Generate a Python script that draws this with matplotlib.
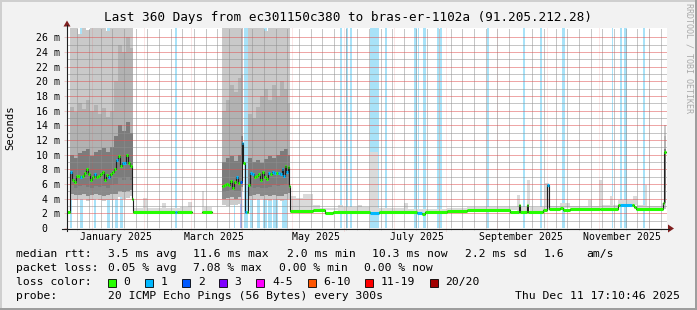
import numpy as np
import matplotlib
matplotlib.use("Agg")
import matplotlib.pyplot as plt
import matplotlib.dates as mdates
from matplotlib.patches import Rectangle, Polygon
from matplotlib.lines import Line2D
from datetime import datetime, timedelta

plt.rcParams['font.family'] = ['DejaVu Sans Mono']

W, H = 697, 310
START = datetime(2024, 12, 16, 17, 10, 46)
SPAN_DAYS = 360
TITLE = "Last 360 Days from ec301150c380 to bras-er-1102a (91.205.212.28)"

# median rtt (ms), steps starting at day offset from START; loss = index in loss_labels
median_day = [0, 1.8, 3.0, 4.2, 5.4, 6.6, 7.8, 9.0, 10.2, 11.4, 12.6, 13.8, 15.0, 16.2, 17.4,
              18.6, 19.8, 21.0, 22.2, 23.4, 24.6, 25.8, 27.0, 28.2, 29.4, 30.6, 31.8, 33.0, 34.2,
              35.4, 36.6, 37.8, 39.0, 39.6, 64.8, 66.0, 75.0, 81.0, 87.0, 93.0, 94.2, 95.4, 96.6,
              97.8, 99.0, 100.2, 101.4, 102.6, 103.8, 104.7, 105.6, 106.5, 107.7, 108.6, 109.5,
              110.7, 111.9, 113.1, 114.3, 115.5, 116.7, 117.9, 119.1, 120.3, 121.5, 122.7, 123.9,
              125.1, 126.3, 127.5, 128.7, 129.6, 130.5, 131.4, 132.3, 133.2, 133.5, 147.6, 154.8,
              159.6, 181.8, 187.2, 210.0, 213.0, 214.8, 228.0, 240.0, 265.8, 271.2, 271.8, 276.0,
              276.6, 285.6, 288.0, 288.9, 295.8, 297.6, 301.8, 319.8, 330.6, 331.8, 339.0, 340.2,
              341.4, 357.6, 358.2, 359.1]
median_ms = [2.2, 7.7, 6.5, 6.3, 7.1, 7.1, 6.9, 7.1, 7.5, 8.0, 7.3, 6.6, 6.9, 7.3, 7.0,
             7.1, 7.4, 7.7, 6.6, 7.2, 7.0, 7.3, 7.6, 8.1, 9.3, 9.8, 8.4, 8.9, 8.9,
             10.0, 8.9, 8.5, 3.9, 2.2, 2.2, 2.2, np.nan, 2.2, np.nan, 5.7, 5.9, 6.0, 5.8,
             6.4, 5.5, 6.3, 7.0, 6.1, 6.3, 11.6, 8.9, 2.2, 2.2, 5.9, 7.5,
             7.3, 6.9, 7.1, 7.3, 6.6, 7.6, 6.9, 6.7, 7.5, 7.4, 7.6, 7.5,
             7.5, 7.5, 7.4, 8.1, 7.1, 8.4, 7.6, 8.3, 5.7, 2.35, 2.4, 2.05,
             2.2, 2.1, 2.15, 2.1, 1.9, 2.25, 2.3, 2.4, 2.2, 3.1, 2.2, 3.1,
             2.2, 2.5, 5.9, 2.55, 2.75, 2.5, 2.65, 2.6, 3.1, 3.1, 3.1, 2.9,
             2.6, 3.35, 10.3, np.nan]
median_loss = [0, 1, 0, 0, 0, 0,
               1, 0, 0, 0, 0, 0, 0,
               1, 0, 0, 0, 0, 0, 0,
               1, 0, 0, 0,
               1, 0, 0, 1, 1,
               0, 0, 0, 0, 0,
               1, 0, 0, 0, 0,
               0, 0, 0, 0, 0, 0, 0,
               1, 0, 2, 1, 0, 1, 0, 0,
               1, 1, 0, 0, 0, 0, 0, 0, 0,
               1, 0, 1, 1, 0, 1, 1, 1, 1, 0, 1, 0, 0,
               0, 0, 0, 0,
               1, 0, 1,
               0, 0, 0, 0, 0, 0, 0, 0, 0, 0,
               1, 0, 0, 0, 0, 0, 0,
               1, 0, 0, 0, 0, 0, 0]

# smoke percentiles (ms) for the busy periods
nan = np.nan
smoke_day = [1.8, 4.2, 6.6, 9.0, 11.4, 13.8, 16.2, 18.6, 21.0, 23.4, 25.8, 28.2, 30.6, 33.0, 35.4, 37.8, 39.3,
             93.0, 95.4, 97.8, 100.2, 102.6, 104.4, 105.6,
             108.6, 111.0, 113.4, 115.8, 118.2, 120.6, 123.0, 125.4, 127.8, 130.2, 132.6, 133.5,
             357.9, 359.1]
smoke_lo = [4.0, 3.8, 3.9, 3.9, 3.7, 3.8, 3.9, 3.8, 3.7, 3.8, 3.8, 3.9, 4.2, 4.0, 4.1, 4.3, nan,
            3.1, 3.0, 3.2, 3.1, 3.3, 5.0, nan,
            3.9, 3.8, 4.0, 3.9, 3.8, 3.7, 3.9, 3.8, 3.7, 3.9, 4.0, nan,
            2.6, nan]
smoke_p10 = [4.6, 4.5, 4.5, 4.6, 4.4, 4.5, 4.6, 4.5, 4.4, 4.5, 4.6, 4.7, 5.0, 4.9, 5.0, 5.2, nan,
             4.0, 4.1, 4.2, 4.0, 4.2, 5.6, nan,
             4.4, 4.5, 4.6, 4.4, 4.5, 4.3, 4.5, 4.4, 4.4, 4.6, 4.8, nan,
             3.4, nan]
smoke_p25 = [5.8, 5.5, 5.7, 5.8, 5.6, 5.4, 5.7, 5.6, 5.7, 5.5, 5.8, 6.0, 6.8, 6.5, 7.0, 6.6, nan,
             4.9, 5.0, 5.2, 5.0, 5.1, 6.5, nan,
             5.6, 5.5, 5.6, 5.4, 5.5, 5.6, 5.8, 5.7, 5.9, 6.0, 5.8, nan,
             5.5, nan]
smoke_p75 = [10.0, 9.6, 10.2, 10.5, 10.8, 9.8, 10.3, 10.6, 10.9, 10.4, 11.0, 12.5, 14.0, 13.2, 14.5, 13.0, nan,
             9.0, 9.5, 9.8, 9.2, 10.0, 12.5, nan,
             9.5, 9.0, 9.3, 8.8, 9.4, 9.8, 9.5, 9.9, 10.5, 10.8, 10.0, nan,
             10.8, nan]
smoke_p90 = [16.5, 15.8, 17.0, 16.2, 17.5, 16.0, 16.8, 15.5, 16.3, 15.2, 16.0, 20.0, 25.0, 24.0, 26.0, 24.5, nan,
             16.0, 17.5, 19.5, 18.5, 20.5, 21.0, nan,
             15.5, 15.0, 16.5, 18.0, 19.0, 17.5, 19.5, 18.0, 20.0, 19.0, 17.0, nan,
             12.5, nan]
smoke_hi = [29, 29, 26.5, 29, 27, 29, 29, 29, 29, 26.8, 29, 29, 29, 29, 29, 29, nan,
            29, 29, 29, 29, 29, 29, nan,
            29, 29, 29, 29, 26.8, 29, 29, 29, 29, 29, 29, nan,
            14.0, nan]

# faint smoke (max ping) for the quiet periods
light_day = [39.6, 45.6, 48.0, 57.0, 59.4, 67.8, 72.6, 75.0, 81.0, 82.2, 87.0, 133.5, 137.4, 141.6,
             147.6, 151.8, 162.6, 165.6, 174.6, 177.0, 181.8, 186.6, 202.2, 204.6, 228.0, 240.0,
             270.0, 271.8, 276.0, 277.8, 286.8, 289.2, 295.8, 301.8, 312.6, 315.0, 319.2, 321.0,
             325.8, 327.6, 330.6, 339.6, 342.0, 346.8, 348.0, 357.0, 357.9]
light_top = [2.7, 4.1, 2.7, 3.4, 2.7, 2.9, 3.6, nan, 5.0, 2.9, nan, 4.3, 4.1, 4.6,
             3.1, 2.7, 3.1, 2.8, 3.1, 2.8, 10.4, 2.7, 3.4, 2.6, 2.75, 2.8,
             4.5, 2.8, 6.5, 2.9, 6.1, 3.0, 3.4, 3.0, 3.8, 3.0, 6.5, 3.1,
             4.3, 3.2, 3.8, 4.3, 3.2, 5.8, 3.0, 3.4, nan]

# loss background periods (day start, day end, loss index)
lossbg_start = [1.5, 7.8, 15.9, 24.0, 26.8, 28.8, 31.8, 64.8, 99.9, 103.8, 105.9, 109.8, 113.8, 117.6,
                120.6, 123.8, 128.8, 151.5, 163.8, 167.2, 169.8, 181.8, 190.8, 208.2, 210.3, 213.6,
                222.0, 223.8, 252.0, 273.6, 283.8, 296.8, 326.8, 331.8, 334.4, 345.8]
lossbg_end = [2.7, 9.6, 17.7, 26.1, 27.8, 30.6, 33.6, 66.2, 101.1, 105.0, 108.6, 111.6, 115.8, 119.8,
              122.8, 126.8, 131.8, 152.1, 165.0, 168.8, 170.8, 187.0, 191.8, 209.8, 211.2, 215.2,
              223.2, 225.0, 253.2, 274.8, 284.8, 298.8, 327.8, 333.2, 335.8, 346.8]
lossbg_level = [1] * 9 + [2] + [1] * 26

loss_labels = ['0', '1', '2', '3', '4-5', '6-10', '11-19', '20/20']
loss_colors = ['#26ff00', '#00b8ff', '#0059ff', '#7e00ff', '#ff00ff', '#ff5500', '#ff0000', '#a10000']
lossbg_colors = {1: '#a8e2f8', 2: '#aab6f4'}

legend_rows = [
    [("median rtt:", 16), ("3.5 ms avg", 107.6), ("11.6 ms max", 193), ("2.0 ms min", 286.7),
     ("10.3 ms now", 372.4), ("2.2 ms sd", 465), ("1.6", 544), ("am/s", 586.7)],
    [("packet loss:", 16), ("0.05 % avg", 107.6), ("7.08 % max", 193.3), ("0.00 % min", 279),
     ("0.00 % now", 364.4)],
]
swatch_x = [108, 145.3, 182.2, 219, 256.4, 307.6, 365.3, 429.8]
probe_text = "20 ICMP Echo Pings (56 Bytes) every 300s"
stamp_text = "Thu Dec 11 17:10:46 2025"

GRID = (0.56, 0.56, 0.56, 0.35)
MGRID = (0.87, 0.31, 0.31, 0.28)
AXIS = '#1f1f1f'
ARROW = '#801f1f'


def fx(px):
    return px / W


def fy(py):
    return 1 - py / H


fig = plt.figure(figsize=(W / 100, H / 100), dpi=100)
fig.patch.set_facecolor('#f2f2f2')
ax = fig.add_axes([fx(67), fy(228), 600 / W, 200 / H])
ax.set_facecolor('white')
for s in ax.spines.values():
    s.set_visible(False)

x0 = mdates.date2num(START)
ax.set_xlim(x0, x0 + SPAN_DAYS)
ax.set_ylim(0, 200 / 7.333)

# loss background
for s, e, lv in zip(lossbg_start, lossbg_end, lossbg_level):
    ax.axvspan(x0 + s, x0 + e, color=lossbg_colors[lv], lw=0, zorder=0.5)

# faint smoke
ld = np.array(light_day)
md = np.array(median_day)
mm = np.array(median_ms)
idx = np.searchsorted(md, ld, side='right') - 1
lbot = mm[idx]
ltop = np.array(light_top)
ax.bar(x0 + ld[:-1], (ltop - lbot)[:-1], bottom=lbot[:-1], width=np.diff(ld), align='edge',
       color='#dadada', lw=0, zorder=1)

# heavy smoke
sd = np.array(smoke_day)
bands = [(smoke_lo, smoke_p10, '#cbcbcb'), (smoke_p90, smoke_hi, '#c9c9c9'),
         (smoke_p10, smoke_p25, '#8a8a8a'), (smoke_p75, smoke_p90, '#b2b2b2'),
         (smoke_p25, smoke_p75, '#7c7c7c')]
for lo, hi, c in bands:
    lo = np.array(lo)
    hi = np.array(hi)
    ax.bar(x0 + sd[:-1], (hi - lo)[:-1], bottom=lo[:-1], width=np.diff(sd), align='edge',
           color=c, lw=0, zorder=1.2)

# median
ax.step(x0 + md, mm, where='post', color='#202020', lw=0.8, zorder=3)
for i in range(len(md) - 1):
    if np.isfinite(mm[i]):
        ax.hlines(mm[i], x0 + md[i], x0 + md[i + 1], colors=loss_colors[median_loss[i]],
                  lw=2.2, zorder=4)

# grid
ax.set_axisbelow(False)
yt = np.arange(0, 27, 2)
ax.set_yticks(yt, labels=[f"{v:2d} m" if v else " 0" for v in yt])
ax.set_yticks(np.arange(1, 27, 2), minor=True)
ax.tick_params(axis='y', which='major', direction='out', length=2.2, width=0.72, color=MGRID,
               pad=20.2, labelsize=7.1)
ax.tick_params(axis='y', which='minor', length=0)
for t in ax.get_yticklabels():
    t.set_horizontalalignment('left')

ax.xaxis.set_major_locator(mdates.MonthLocator(bymonth=[1, 3, 5, 7, 9, 11], bymonthday=15))
ax.xaxis.set_major_formatter(mdates.DateFormatter('%B %Y'))
ax.xaxis.set_minor_locator(mdates.WeekdayLocator(byweekday=mdates.MO))
ax.tick_params(axis='x', which='major', length=0, pad=3.2, labelsize=7.1)
ax.tick_params(axis='x', which='minor', direction='out', length=1.5, width=0.72, color=GRID)

dots = (0, (1, 1))
ax.grid(which='minor', axis='x', color=GRID, ls=dots, lw=0.72)
ax.grid(which='major', axis='y', color=MGRID, ls=dots, lw=0.72)
ax.grid(which='minor', axis='y', color=GRID, ls=dots, lw=0.72)
month_starts = mdates.MonthLocator().tick_values(START, START + timedelta(days=SPAN_DAYS))
for m in month_starts:
    ax.vlines(m, -0.4, 200 / 7.333, colors=[MGRID], linestyles=[dots], lw=0.72, zorder=2.5,
              clip_on=False)

# axes lines and arrows
fig.add_artist(Line2D([fx(62), fx(669)], [fy(228.5)] * 2, color=AXIS, lw=0.8))
fig.add_artist(Line2D([fx(67)] * 2, [fy(231), fy(25)], color=AXIS, lw=0.8))
fig.add_artist(Polygon([(fx(668), fy(224.5)), (fx(668), fy(232.5)), (fx(674), fy(228.5))],
                       closed=True, color=ARROW, lw=0))
fig.add_artist(Polygon([(fx(63.5), fy(26.5)), (fx(70.5), fy(26.5)), (fx(67), fy(20.5))],
                       closed=True, color=ARROW, lw=0))

# frame
fig.add_artist(Rectangle((0, fy(2)), 1, 2 / H, color='#cfcfcf', lw=0))
fig.add_artist(Rectangle((0, 0), 2 / W, 1, color='#cfcfcf', lw=0))
fig.add_artist(Rectangle((0, 0), 1, 2 / H, color='#9e9e9e', lw=0))
fig.add_artist(Rectangle((fx(695), 0), 2 / W, 1, color='#9e9e9e', lw=0))

# texts
fig.text(0.5, fy(18), TITLE, ha='center', va='center', fontsize=9.1)
fig.text(fx(10), fy(128), "Seconds", rotation=90, ha='center', va='center', fontsize=7.6)
fig.text(fx(689), fy(3), "RRDTOOL / TOBI OETIKER", rotation=-90, ha='center', va='top',
         fontsize=6, color=(0, 0, 0, 0.3))

row_y = [254.3, 268.3, 282.3, 296.3]
for row, yy in zip(legend_rows, row_y):
    for txt, xx in row:
        fig.text(fx(xx), fy(yy), txt, ha='left', va='center', fontsize=8.2)

fig.text(fx(16), fy(row_y[2]), "loss color:", ha='left', va='center', fontsize=8.2)
for lab, col, xx in zip(loss_labels, loss_colors, swatch_x):
    fig.add_artist(Rectangle((fx(xx), fy(286.7)), 8 / W, 8 / H, facecolor=col,
                             edgecolor='black', lw=0.6))
    fig.text(fx(xx + 15.5), fy(row_y[2]), lab, ha='left', va='center', fontsize=8.2)

fig.text(fx(16), fy(row_y[3]), "probe:", ha='left', va='center', fontsize=8.2)
fig.text(fx(107.6), fy(row_y[3]), probe_text, ha='left', va='center', fontsize=8.2)
fig.text(fx(680), fy(row_y[3]), stamp_text, ha='right', va='center', fontsize=8.2)

fig.savefig("out.png", dpi=100, facecolor=fig.get_facecolor())
